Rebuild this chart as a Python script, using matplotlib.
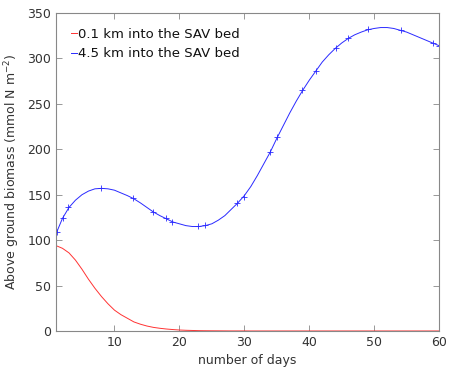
import numpy as np
import matplotlib
matplotlib.use('Agg')
import matplotlib.pyplot as plt

# days for the smooth curves
days = list(range(1, 61))

# 0.1 km into the SAV bed (red)
red_vals = [94, 91, 86, 78, 68, 57, 47, 38, 30, 23,
            18, 14, 10, 7.5, 5.5, 4, 3, 2.2, 1.6, 1.1,
            0.8, 0.6, 0.4, 0.3, 0.25, 0.2, 0.15, 0.1, 0.1, 0.1,
            0.05, 0.05, 0.05, 0.05, 0.05, 0.05, 0.05, 0.05, 0.05, 0.05,
            0.05, 0.05, 0.05, 0.05, 0.05, 0.05, 0.05, 0.05, 0.05, 0.05,
            0.05, 0.05, 0.05, 0.05, 0.05, 0.05, 0.05, 0.05, 0.05, 0.05]

# 4.5 km into the SAV bed (blue)
blue_vals = [107, 124, 136, 144, 150, 154, 156.5, 157, 156.5, 155,
             152, 149, 145.5, 141, 136, 131, 127, 123.5, 120, 118,
             116, 115, 115, 116, 118, 122, 127, 134, 141, 149,
             159, 171, 184, 197, 212, 226, 240, 253, 265, 276,
             286, 296, 304, 311, 317, 322, 326, 329, 331.5, 333,
             334, 334, 333, 331, 329, 326, 323, 320, 317, 314]

# solver output points shown as markers on the blue curve
blue_mark_days = [1.1, 2.1, 2.9, 8.0, 12.9, 15.9, 18.0, 18.8, 22.9, 23.9, 28.8,
                  29.9, 34.0, 35.0, 38.9, 41.0, 44.1, 45.9, 49.0, 54.1, 59.0, 60]
blue_mark_vals = [109, 124.5, 136, 157, 146, 131, 124, 120, 115.5, 116.5, 140.5,
                  148, 197, 213, 265, 286, 311, 322, 332, 331, 317, 314]

plt.rcParams['font.family'] = 'DejaVu Sans'
plt.rcParams['font.size'] = 9

fig = plt.figure(figsize=(4.49, 3.75), dpi=100)
ax = fig.add_axes([0.1247, 0.1173, 0.8533, 0.848])

ax.plot(days, red_vals, color='#ff3333', lw=0.7, label='0.1 km into the SAV bed')
ax.plot(days, blue_vals, color='#2a2aff', lw=0.7, label='4.5 km into the SAV bed')
ax.plot(blue_mark_days, blue_mark_vals, ls='none', marker='+', color='#2a2aff',
        ms=4.5, mew=0.6)

ax.set_xlim(1, 60)
ax.set_ylim(0, 350)
ax.set_xticks([10, 20, 30, 40, 50, 60])
ax.set_yticks(range(0, 351, 50))

txt = '#333333'
for s in ax.spines.values():
    s.set_color('#888888')
    s.set_linewidth(0.8)
ax.tick_params(direction='in', top=True, right=True, colors='#888888',
               labelcolor=txt, length=4, width=0.6)

ax.set_xlabel('number of days', color=txt)
ax.set_ylabel('Above ground biomass (mmol N m$^{-2}$)', color=txt)

leg = ax.legend(loc='upper left', frameon=False, handlelength=0.5,
                handletextpad=0.1, borderaxespad=0.7, labelspacing=0.5,
                fontsize=9.5)
for t in leg.get_texts():
    t.set_color('#111111')

fig.savefig('out.png', dpi=100)
